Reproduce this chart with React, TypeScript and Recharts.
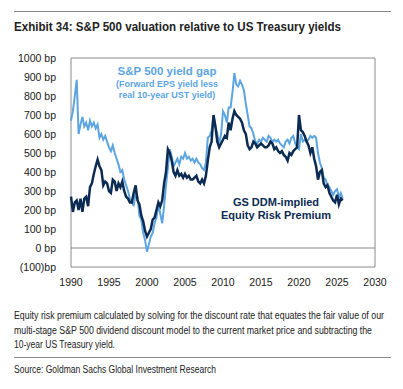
import { LineChart, Line, XAxis, YAxis, ReferenceArea, ReferenceLine } from 'recharts';

// quarterly readings, 1990 Q1 .. 2025 Q4
const START_YEAR = 1990;

const YIELD_GAP = [
  670, 720, 800, 885, 600, 650, 690, 640, 660, 620, 670, 640, 660, 630, 650, 580,
  600, 570, 590, 560, 530, 510, 540, 500, 470, 440, 400, 410, 360, 330, 300, 260,
  250, 220, 290, 270, 170, 150, 80, 40, -20, 20, 60, 80, 130, 160, 230, 180,
  130, 220, 330, 420, 520, 480, 430, 450, 470, 440, 480, 470, 500, 470, 480, 460,
  470, 450, 470, 450, 440, 420, 410, 450, 580, 590, 620, 690, 640, 600, 550, 600,
  720, 700, 660, 740, 740, 820, 920, 860, 850, 880, 860, 830, 760, 700, 640, 630,
  600, 560, 550, 570, 560, 580, 570, 560, 590, 580, 560, 570, 560, 570, 550, 540,
  530, 560, 570, 550, 580, 590, 550, 530, 520, 600, 560, 570, 560, 570, 590, 580,
  590, 580, 500, 450, 420, 370, 360, 330, 320, 300, 280, 300, 310, 270, 290, 260,
];

const ERP = [
  270, 190, 240, 250, 200, 260, 190, 260, 270, 220, 320, 340, 390, 430, 465, 430,
  410, 330, 350, 340, 300, 290, 360, 350, 300, 340, 320, 350, 300, 270, 260, 240,
  240, 290, 330, 250, 230, 170, 140, 90, 60, 80, 100, 150, 160, 200, 240, 220,
  250, 340, 400, 520, 500, 460, 400, 380, 410, 380, 390, 370, 390, 370, 380, 360,
  360, 370, 380, 350, 340, 360, 340, 380, 460, 530, 560, 700, 640, 560, 530, 550,
  570, 590, 580, 660, 620, 680, 720, 700, 690, 680, 660, 620, 600, 540, 520, 530,
  560, 550, 530, 540, 550, 540, 530, 530, 540, 560, 550, 520, 530, 510, 500, 510,
  490, 480, 460, 500, 490, 510, 520, 530, 700, 620, 610, 590, 560, 540, 500, 530,
  470, 430, 360, 400, 410, 340, 320, 330, 290, 270, 250, 240, 280, 230, 260, 250,
];

const X_TICKS = [1990, 1995, 2000, 2005, 2010, 2015, 2020, 2025, 2030];
const Y_TICKS = [-100, 0, 100, 200, 300, 400, 500, 600, 700, 800, 900, 1000];

const TITLE = 'Exhibit 34: S&P 500 valuation relative to US Treasury yields';
const NOTE_LINES = [
  'Equity risk premium calculated by solving for the discount rate that equates the fair value of our',
  'multi-stage S&P 500 dividend discount model to the current market price and subtracting the',
  '10-year US Treasury yield.',
];
const SOURCE = 'Source: Goldman Sachs Global Investment Research';

const rows = YIELD_GAP.map((v, i) => ({
  t: START_YEAR + i / 4,
  gap: v,
  erp: ERP[i],
}));

const LIGHT = '#5ca5e1';
const DARK = '#0c2b52';
const SANS = "'Liberation Sans', Arial, sans-serif";

const fmtY = (v: number) => (v < 0 ? `(${-v})bp` : `${v} bp`);

// text squeezed to the width it takes in the original (narrow face)
function Fit({ x, y, w, size, bold, children }: { x: number; y: number; w: number; size: number; bold?: boolean; children: string }) {
  return (
    <text x={x} y={y} textLength={w} lengthAdjust="spacingAndGlyphs" fontFamily={SANS} fontSize={size} fontWeight={bold ? 700 : 400} fill="#222">
      {children}
    </text>
  );
}

export default function App() {
  return (
    <div style={{ position: 'absolute', left: 0, top: 0, width: 403, height: 389, background: '#fff', overflow: 'hidden' }}>
      <div style={{ position: 'absolute', left: 0, top: 0 }}>
        <LineChart width={403} height={300} data={rows} margin={{ top: 58, right: 28, bottom: 0, left: 0 }}>
          <XAxis
            dataKey="t"
            type="number"
            domain={[1990, 2030]}
            ticks={X_TICKS}
            axisLine={false}
            tickLine={false}
            height={33}
            tick={{ fontFamily: SANS, fontSize: 10.5, fill: '#1a1a1a' }}
            tickMargin={6}
          />
          <YAxis
            type="number"
            domain={[-100, 1000]}
            ticks={Y_TICKS}
            axisLine={false}
            tickLine={false}
            width={71}
            tickFormatter={fmtY}
            tick={{ fontFamily: SANS, fontSize: 10.5, fill: '#1a1a1a' }}
            tickMargin={9}
          />
          <ReferenceArea x1={1990} x2={2030} y1={-100} y2={1000} fill="none" stroke="#8a8a8a" strokeWidth={1} ifOverflow="visible" />
          <ReferenceLine y={0} stroke="#8a8a8a" strokeWidth={1} />
          <Line dataKey="gap" stroke={LIGHT} strokeWidth={2} dot={false} isAnimationActive={false} />
          <Line dataKey="erp" stroke={DARK} strokeWidth={2.5} dot={false} isAnimationActive={false} />
        </LineChart>
      </div>

      <div style={{ position: 'absolute', left: 107, top: 66, width: 120, textAlign: 'center', fontFamily: SANS, fontWeight: 700, color: LIGHT, lineHeight: '11px' }}>
        <div style={{ fontSize: 11.5, marginBottom: 2 }}>S&amp;P 500 yield gap</div>
        <div style={{ fontSize: 9 }}>(Forward EPS yield less</div>
        <div style={{ fontSize: 9 }}>real 10-year UST yield)</div>
      </div>

      <div style={{ position: 'absolute', left: 206, top: 196, width: 140, textAlign: 'center', fontFamily: SANS, fontWeight: 700, color: DARK, fontSize: 11, lineHeight: '13px' }}>
        <div>GS DDM-implied</div>
        <div>Equity Risk Premium</div>
      </div>

      <svg width={403} height={389} style={{ position: 'absolute', left: 0, top: 0, pointerEvents: 'none' }}>
        <line x1={14} x2={391} y1={11.5} y2={11.5} stroke="#888" strokeWidth={1} />
        <Fit x={14} y={31} w={327} size={13.5} bold>{TITLE}</Fit>
        <Fit x={14} y={319} w={370} size={10}>{NOTE_LINES[0]}</Fit>
        <Fit x={14} y={333.5} w={358} size={10}>{NOTE_LINES[1]}</Fit>
        <Fit x={14} y={348} w={101} size={10}>{NOTE_LINES[2]}</Fit>
        <line x1={14} x2={391} y1={357.5} y2={357.5} stroke="#888" strokeWidth={1} />
        <Fit x={14} y={373} w={202} size={10}>{SOURCE}</Fit>
      </svg>
    </div>
  );
}
